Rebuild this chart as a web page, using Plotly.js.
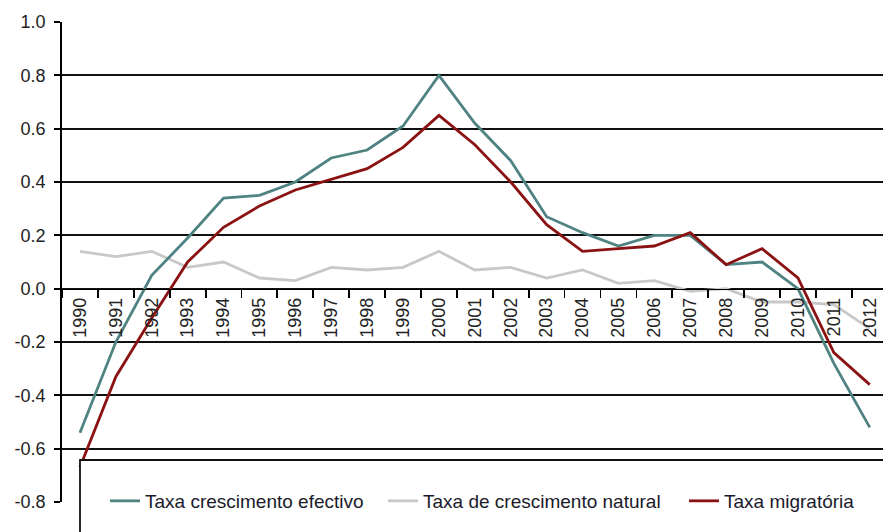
<!DOCTYPE html>
<html>
<head>
<meta charset="utf-8">
<script src="https://cdn.plot.ly/plotly-3.0.1.min.js"></script>
<style>html,body{margin:0;padding:0;background:#fff;}#chart{width:883px;height:532px;}</style>
</head>
<body>
<div id="chart"></div>
<script>
const years = ["1990","1991","1992","1993","1994","1995","1996","1997","1998","1999","2000","2001","2002","2003","2004","2005","2006","2007","2008","2009","2010","2011","2012"];
const efectivo = [-0.54,-0.20,0.05,0.19,0.34,0.35,0.40,0.49,0.52,0.61,0.80,0.62,0.48,0.27,0.21,0.16,0.20,0.20,0.09,0.10,0.00,-0.28,-0.52];
const natural = [0.14,0.12,0.14,0.08,0.10,0.04,0.03,0.08,0.07,0.08,0.14,0.07,0.08,0.04,0.07,0.02,0.03,-0.01,0.00,-0.05,-0.05,-0.06,-0.15];
const migratoria = [-0.67,-0.33,-0.11,0.10,0.23,0.31,0.37,0.41,0.45,0.53,0.65,0.54,0.40,0.24,0.14,0.15,0.16,0.21,0.09,0.15,0.04,-0.24,-0.36];
const seriesNames = ["Taxa crescimento efectivo","Taxa de crescimento natural","Taxa migratória"];
const yTicks = [-0.8,-0.6,-0.4,-0.2,0.0,0.2,0.4,0.6,0.8,1.0];
const yGrid = [-0.6,-0.4,-0.2,0.0,0.2,0.4,0.6,0.8];

const W = 883, H = 532, ML = 62, MR = 0, MT = 22, MB = 30;
const pw = W - ML - MR, ph = H - MT - MB;
const px = p => (p - ML) / pw;
const py = p => (H - MB - p) / ph;
const yMin = -0.8, yMax = 1.0;
const catW = 35.9;

const FONT = '"Liberation Sans", Arial, sans-serif';

const traces = [
  {x: years, y: natural, name: seriesNames[1], type: 'scatter', mode: 'lines',
   line: {color: '#c8c8c8', width: 2.8}, legend: 'legend2', xaxis: 'x', yaxis: 'y'},
  {x: years, y: efectivo, name: seriesNames[0], type: 'scatter', mode: 'lines',
   line: {color: '#4f8382', width: 2.8}, legend: 'legend', xaxis: 'x', yaxis: 'y'},
  {x: years, y: migratoria, name: seriesNames[2], type: 'scatter', mode: 'lines',
   line: {color: '#8b1212', width: 2.8}, legend: 'legend3', xaxis: 'x', yaxis: 'y'}
];

const legBase = {orientation: 'h', yanchor: 'middle', xanchor: 'left', y: py(501),
  bgcolor: 'rgba(0,0,0,0)', borderwidth: 0, font: {family: FONT, size: 19, color: '#1a1a2a'}};

const layout = {
  width: W, height: H,
  margin: {l: ML, r: MR, t: MT, b: MB, pad: 0},
  paper_bgcolor: '#ffffff', plot_bgcolor: '#ffffff',
  showlegend: true,
  font: {family: FONT, color: '#222'},
  xaxis: {
    type: 'category', range: [-0.5, -0.5 + pw / catW],
    anchor: 'free', position: (0 - yMin) / (yMax - yMin),
    showline: true, linecolor: '#000', linewidth: 1.8,
    ticks: 'outside', tickson: 'boundaries', ticklen: 8, tickwidth: 1.8, tickcolor: '#000',
    tickangle: -90, tickfont: {family: FONT, size: 18, color: '#222'},
    showgrid: false, zeroline: false, fixedrange: true
  },
  yaxis: {
    range: [yMin, yMax], tickmode: 'array', tickvals: yTicks,
    ticktext: yTicks.map(v => v.toFixed(1)),
    showline: true, linecolor: '#000', linewidth: 1.8,
    ticks: 'outside', ticklen: 6, tickwidth: 1.8, tickcolor: '#000',
    ticklabelstandoff: 5,
    tickfont: {family: FONT, size: 18, color: '#222'},
    showgrid: false, zeroline: false, fixedrange: true
  },
  yaxis2: {
    overlaying: 'y', range: [yMin, yMax], tickmode: 'array', tickvals: yGrid,
    showgrid: true, gridcolor: '#111', gridwidth: 1.8,
    showticklabels: false, ticks: '', showline: false, zeroline: false, fixedrange: true
  },
  legend: Object.assign({}, legBase, {x: px(105)}),
  legend2: Object.assign({}, legBase, {x: px(383)}),
  legend3: Object.assign({}, legBase, {x: px(684)}),
  shapes: [{
    type: 'rect', xref: 'paper', yref: 'paper', layer: 'above',
    x0: px(80), x1: 1.1, y0: -0.3, y1: py(460),
    fillcolor: '#ffffff', line: {color: '#111', width: 1.8}
  }]
};

// helper trace so the overlaid grid axis is drawn
traces.push({x: [years[0]], y: [null], xaxis: 'x', yaxis: 'y2', showlegend: false, hoverinfo: 'skip', type: 'scatter', mode: 'lines'});

Plotly.newPlot('chart', traces, layout, {staticPlot: true, displayModeBar: false});
</script>
</body>
</html>
